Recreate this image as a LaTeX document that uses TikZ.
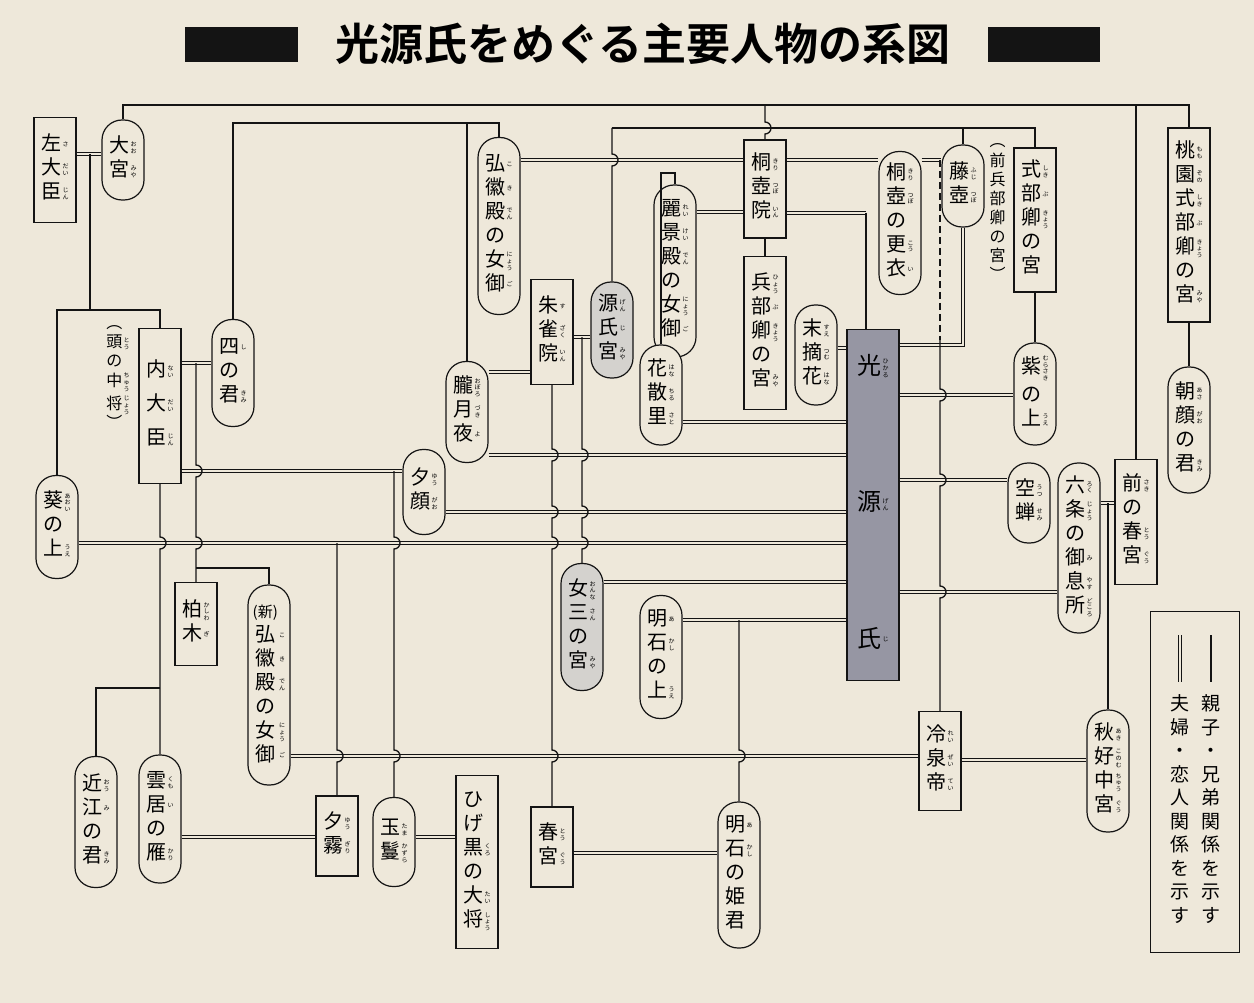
\documentclass[tikz,border=0pt]{standalone}
\usepackage{fontspec}
\setmainfont{Noto Sans CJK JP}[BoldFont={Noto Sans CJK JP Bold}]
\XeTeXlinebreaklocale "ja"
\XeTeXlinebreakskip=0pt plus 1pt

\definecolor{paper}{RGB}{238,232,218}
\definecolor{ink}{RGB}{20,20,20}
\definecolor{shade}{RGB}{150,150,163}
\definecolor{pale}{RGB}{212,210,206}

\newcommand\rubyfont{\fontsize{6}{6.8}\selectfont}
\newcommand\rb[1]{$\vcenter{\hbox{\parbox{6.5pt}{\centering\rubyfont #1}}}$}
\newcommand\tate[1]{\begin{tabular}{@{}c@{\hspace{1pt}}c@{}}#1\end{tabular}}
\newcommand\hopto[4]{\draw[kin] (#2) \foreach \h in {#3}{ -- ({#1},{\h-6}) arc[start angle=90,end angle=-90,radius=6pt] } -- (#4);}

\tikzset{
  box/.style={draw=ink,line width=1.2pt,fill=paper,minimum width=42pt,inner sep=1pt,font=\fontsize{20}{24}\selectfont},
  oval/.style={box,rounded corners=20pt},
  dbl/.style={draw=ink,line width=1pt,double=paper,double distance=2.4pt},
  kin/.style={draw=ink,line width=1.3pt},
  note/.style={inner sep=0pt,font=\fontsize{16}{19}\selectfont},
}

\begin{document}
\begin{tikzpicture}[x=1pt,y=-1pt]
\fill[paper] (0,0) rectangle (1254,1003);
\useasboundingbox (0,0) rectangle (1254,1003);

% title
\fill[ink] (185,27) rectangle (298,62);
\fill[ink] (988,27) rectangle (1100,62);
\node[inner sep=0pt,font=\fontsize{44}{44}\selectfont\bfseries] (title) at (643,44) {光源氏をめぐる主要人物の系図};

% people
\node[box,minimum height=105] (sadaijin) at (55,170) {\tate{左&\rb{さ}\\大&\rb{だい}\\臣&\rb{じん}}};
\node[oval,minimum height=80] (ohmiya) at (123,160) {\tate{大&\rb{おお}\\宮&\rb{みや}}};
\node[box,minimum height=155] (naidaijin) at (160,406) {\tate{内&\rb{ない}\\[10pt]大&\rb{だい}\\[10pt]臣&\rb{じん}}};
\node[note] (tochujo) at (118,375) {\tate{︵&\\頭&\rb{とう}\\の&\\中&\rb{ちゅう}\\[4pt]将&\rb{じょう}\\︶&}};
\node[oval,minimum height=107] (shinokimi) at (233,373) {\tate{四&\rb{し}\\の&\\君&\rb{きみ}}};
\node[oval,minimum height=103] (aoi) at (57,527) {\tate{葵&\rb{あおい}\\の&\\上&\rb{うえ}}};
\node[oval,minimum height=177] (kokiden) at (499,226) {\tate{弘&\rb{こ}\\徽&\rb{き}\\殿&\rb{でん}\\の&\\女&\rb{にょう}\\御&\rb{ご}}};
\node[box,minimum height=105] (suzaku) at (552,332) {\tate{朱&\rb{す}\\雀&\rb{ざく}\\院&\rb{いん}}};
\node[oval,fill=pale,minimum height=96] (genjinomiya) at (612,330) {\tate{源&\rb{げん}\\氏&\rb{じ}\\宮&\rb{みや}}};
\node[oval,minimum height=101] (oborozukiyo) at (467,412) {\tate{朧&\rb{おぼろ}\\月&\rb{づき}\\夜&\rb{よ}}};
\node[oval,minimum height=85] (yugao) at (424,492) {\tate{夕&\rb{ゆう}\\顔&\rb{がお}}};
\node[box,minimum height=83] (kashiwagi) at (196,624) {\tate{柏&\rb{かしわ}\\木&\rb{ぎ}}};
\node[oval,minimum height=200] (shinkokiden) at (269,685) {\tate{{\fontsize{15}{15}\selectfont(新)}&\\弘&\rb{こ}\\徽&\rb{き}\\殿&\rb{でん}\\の&\\女&\rb{にょう}\\御&\rb{ご}}};
\node[oval,minimum height=131] (omi) at (96,822) {\tate{近&\rb{おう}\\江&\rb{み}\\の&\\君&\rb{きみ}}};
\node[oval,minimum height=128] (kumoi) at (160,819) {\tate{雲&\rb{くも}\\居&\rb{い}\\の&\\雁&\rb{かり}}};
\node[box,minimum height=80] (yugiri) at (337,836) {\tate{夕&\rb{ゆう}\\霧&\rb{ぎり}}};
\node[oval,minimum height=89] (tamakazura) at (394,842) {\tate{玉&\rb{たま}\\鬘&\rb{かずら}}};
\node[box,minimum height=173] (higekuro) at (477,862) {\tate{ひ&\\げ&\\黒&\rb{くろ}\\の&\\大&\rb{たい}\\将&\rb{しょう}}};
\node[box,minimum height=80] (togu) at (552,847) {\tate{春&\rb{とう}\\宮&\rb{ぐう}}};
\node[oval,fill=pale,minimum height=127] (sannomiya) at (582,627) {\tate{女&\rb{おんな}\\三&\rb{さん}\\の&\\宮&\rb{みや}}};
\node[oval,minimum height=172] (reikeiden) at (675,271) {\tate{麗&\rb{れい}\\景&\rb{けい}\\殿&\rb{でん}\\の&\\女&\rb{にょう}\\御&\rb{ご}}};
\node[oval,minimum height=100] (hanachirusato) at (661,395) {\tate{花&\rb{はな}\\散&\rb{ちる}\\里&\rb{さと}}};
\node[box,minimum height=98] (kiritsuboin) at (765,189) {\tate{桐&\rb{きり}\\壺&\rb{つぼ}\\院&\rb{いん}}};
\node[box,minimum height=153] (hyobukyo) at (765,333) {\tate{兵&\rb{ひょう}\\部&\rb{ぶ}\\卿&\rb{きょう}\\の&\\宮&\rb{みや}}};
\node[oval,minimum height=100] (suetsumuhana) at (816,355) {\tate{末&\rb{すえ}\\摘&\rb{つむ}\\花&\rb{はな}}};
\node[box,fill=shade,minimum width=52,minimum height=351,font=\fontsize{24}{28}\selectfont] (genji) at (873,505) {\tate{光&\rb{ひかる}\\[108pt]源&\rb{げん}\\[108pt]氏&\rb{じ}}};
\node[oval,minimum height=143] (koi) at (900,223) {\tate{桐&\rb{きり}\\壺&\rb{つぼ}\\の&\\更&\rb{こう}\\衣&\rb{い}}};
\node[oval,minimum height=82] (fujitsubo) at (963,186) {\tate{藤&\rb{ふじ}\\壺&\rb{つぼ}}};
\node[note] (zenhyobu) at (998,210) {\tate{︵&\\前&\\兵&\\部&\\卿&\\の&\\宮&\\︶&}};
\node[box,minimum height=144] (shikibu) at (1035,220) {\tate{式&\rb{しき}\\部&\rb{ぶ}\\卿&\rb{きょう}\\の&\\宮&}};
\node[box,minimum height=194] (momozono) at (1189,225) {\tate{桃&\rb{もも}\\園&\rb{ぞの}\\式&\rb{しき}\\部&\rb{ぶ}\\卿&\rb{きょう}\\の&\\宮&\rb{みや}}};
\node[oval,minimum height=102] (murasaki) at (1035,394) {\tate{紫&\rb{むらさき}\\[4pt]の&\\上&\rb{うえ}}};
\node[oval,minimum height=126] (asagao) at (1189,430) {\tate{朝&\rb{あさ}\\顔&\rb{がお}\\の&\\君&\rb{きみ}}};
\node[oval,minimum height=80] (utsusemi) at (1029,503) {\tate{空&\rb{うつ}\\蝉&\rb{せみ}}};
\node[oval,minimum height=170] (rokujo) at (1079,548) {\tate{六&\rb{ろく}\\条&\rb{じょう}\\の&\\御&\rb{み}\\息&\rb{やす}\\所&\rb{どころ}}};
\node[box,minimum height=125] (zentogu) at (1136,522) {\tate{前&\rb{さき}\\の&\\春&\rb{とう}\\宮&\rb{ぐう}}};
\node[oval,minimum height=123] (akashi) at (661,657) {\tate{明&\rb{あ}\\石&\rb{かし}\\の&\\上&\rb{うえ}}};
\node[box,minimum height=99] (reizei) at (940,761) {\tate{冷&\rb{れい}\\泉&\rb{ぜい}\\帝&\rb{てい}}};
\node[oval,minimum height=122] (akikonomu) at (1108,771) {\tate{秋&\rb{あき}\\好&\rb{このむ}\\中&\rb{ちゅう}\\宮&\rb{ぐう}}};
\node[oval,minimum height=146] (himegimi) at (739,875) {\tate{明&\rb{あ}\\石&\rb{かし}\\の&\\姫&\\君&}};

% couples
\draw[dbl] (sadaijin.east |- 0,154) -- (ohmiya.west |- 0,154);
\draw[dbl] (naidaijin.east |- 0,363) -- (shinokimi.west |- 0,363);
\draw[dbl] (naidaijin.east |- 0,471) -- (yugao.west |- 0,471);
\draw[dbl] (kokiden.east |- 0,160) -- (kiritsuboin.west |- 0,160);
\draw[dbl] (kiritsuboin.east |- 0,160) -- (koi.west |- 0,160);
\draw[dbl] (koi.east |- 0,160) -- (fujitsubo.west |- 0,160);
\draw[dbl] (reikeiden.east |- 0,212) -- (kiritsuboin.west |- 0,212);
\draw[dbl] (kiritsuboin.east |- 0,213) -- (866,213) coordinate (kiriKids);
\draw[dbl] (oborozukiyo.east |- 0,372) -- (suzaku.west |- 0,372);
\draw[dbl] (suzaku.east |- 0,337) -- (genjinomiya.west |- 0,337);
\draw[dbl] (suetsumuhana.east |- 0,348) -- (genji.west |- 0,348);
\draw[dbl] (hanachirusato.east |- 0,422) -- (genji.west |- 0,422);
\draw[dbl] (oborozukiyo.east |- 0,455) -- (genji.west |- 0,455);
\draw[dbl] (yugao.east |- 0,512) -- (genji.west |- 0,512);
\draw[dbl] (aoi.east |- 0,543) -- (genji.west |- 0,543);
\draw[dbl] (sannomiya.east |- 0,582) -- (genji.west |- 0,582);
\draw[dbl] (akashi.east |- 0,620) -- (genji.west |- 0,620);
\draw[dbl] (genji.east |- 0,345) -| (fujitsubo.south);
\draw[dbl] (genji.east |- 0,395) -- (murasaki.west |- 0,395);
\draw[dbl] (genji.east |- 0,480) -- (utsusemi.west |- 0,480);
\draw[dbl] (genji.east |- 0,592) -- (rokujo.west |- 0,592);
\draw[dbl] (rokujo.east |- 0,503) -- (zentogu.west |- 0,503);
\draw[dbl] (shinkokiden.east |- 0,756) -- (reizei.west |- 0,756);
\draw[dbl] (reizei.east |- 0,760) -- (akikonomu.west |- 0,760);
\draw[dbl] (kumoi.east |- 0,837) -- (yugiri.west |- 0,837);
\draw[dbl] (tamakazura.east |- 0,837) -- (higekuro.west |- 0,837);
\draw[dbl] (togu.east |- 0,853) -- (himegimi.west |- 0,853);

% parents and siblings
\coordinate (topL) at (123,105);
\coordinate (midL) at (612,128);
\coordinate (udaijin) at (233,123);
\coordinate (sadaiKids) at (90,154);
\coordinate (sadaiBar) at (90,310);
\coordinate (naiKids) at (196,363);
\coordinate (kashiBar) at (196,568);
\coordinate (omiBar) at (160,688);
\coordinate (yugaoKids) at (394,471);
\coordinate (aoiKids) at (337,543);
\coordinate (genjinoKids) at (582,337);
\coordinate (reiBar) at (661,173);
\coordinate (fujiKids) at (940,160);
\coordinate (fujiMid) at (940,340);
\coordinate (akashiKids) at (739,620);
\coordinate (rokuKids) at (1108,503);

\draw[kin] (ohmiya.north) -- (topL) -| (momozono.north);
\draw[kin] (zentogu.north) -- (zentogu.north |- topL);
\hopto{765}{kiritsuboin.north |- topL}{128}{kiritsuboin.north}
\draw[kin] (kiritsuboin.south) -- (hyobukyo.north);
\draw[kin] (midL) -| (shikibu.north);
\draw[kin] (fujitsubo.north) -- (fujitsubo.north |- midL);
\hopto{612}{midL}{160}{genjinomiya.north}
\draw[kin] (shikibu.south) -- (murasaki.north);
\draw[kin] (momozono.south) -- (asagao.north);
\draw[kin] (shinokimi.north) -- (udaijin) -| (kokiden.north);
\draw[kin] (oborozukiyo.north) -- (oborozukiyo.north |- udaijin);
\draw[kin] (hanachirusato.north) -- (reiBar) -| (reikeiden.north);
\draw[kin] (kiriKids) -- (kiriKids |- genji.north);
\draw[kin] (sadaiKids) -- (sadaiBar);
\draw[kin] (aoi.north) |- (sadaiBar) -| (naidaijin.north);
\hopto{196}{naiKids}{471,543}{kashiwagi.north}
\draw[kin] (kashiBar) -| (shinkokiden.north);
\hopto{160}{naidaijin.south}{543}{kumoi.north}
\draw[kin] (omiBar) -| (omi.north);
\hopto{394}{yugaoKids}{543,756}{tamakazura.north}
\hopto{337}{aoiKids}{756}{yugiri.north}
\hopto{552}{suzaku.south}{455,512,543,756}{togu.north}
\hopto{582}{genjinoKids}{455,512,543}{sannomiya.north}
\draw[kin,dash pattern=on 7pt off 4pt] (fujiKids) -- (fujiMid);
\hopto{940}{fujiMid}{395,480,592}{reizei.north}
\hopto{739}{akashiKids}{756}{himegimi.north}
\draw[kin] (rokuKids) -- (akikonomu.north);

% legend
\node[draw=ink,line width=1.6pt,minimum width=89,minimum height=341] (legend) at (1195,782) {};
\coordinate (oyaTop) at (1211,635);
\coordinate (fufuTop) at (1180,635);
\draw[kin] (oyaTop) -- ++(0,47);
\draw[dbl] (fufuTop) -- ++(0,47);
\node[inner sep=0pt,font=\fontsize{19}{23.5}\selectfont,anchor=north] (oyako) at (1211,694) {\tate{親&\\子&\\・&\\兄&\\弟&\\関&\\係&\\を&\\示&\\す&}};
\node[inner sep=0pt,font=\fontsize{19}{23.5}\selectfont,anchor=north] (fufu) at (1180,694) {\tate{夫&\\婦&\\・&\\恋&\\人&\\関&\\係&\\を&\\示&\\す&}};
\end{tikzpicture}
\end{document}
